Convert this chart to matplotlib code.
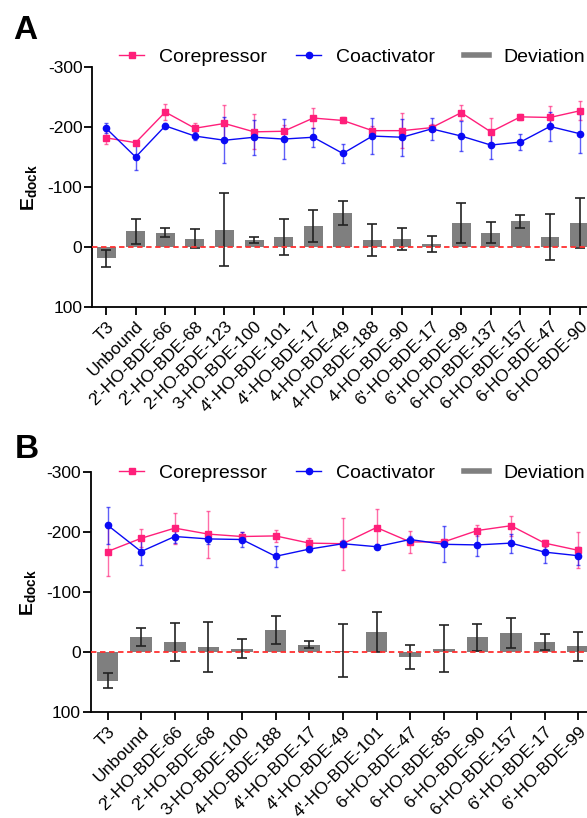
import numpy as np
import matplotlib
matplotlib.use("Agg")
import matplotlib.pyplot as plt
from matplotlib.lines import Line2D

plt.rcParams['font.family'] = ['Liberation Sans', 'DejaVu Sans']
plt.rcParams['mathtext.fontset'] = 'custom'
plt.rcParams['mathtext.rm'] = 'Liberation Sans'
plt.rcParams['mathtext.bf'] = 'Liberation Sans:bold'
plt.rcParams['axes.unicode_minus'] = False

# Panel A data
labels_a = ["T3", "Unbound", "2'-HO-BDE-66", "2'-HO-BDE-68", "2-HO-BDE-123", "3-HO-BDE-100",
            "4'-HO-BDE-101", "4'-HO-BDE-17", "4-HO-BDE-49", "4-HO-BDE-188", "4-HO-BDE-90",
            "6'-HO-BDE-17", "6'-HO-BDE-99", "6-HO-BDE-137", "6-HO-BDE-157", "6-HO-BDE-47", "6-HO-BDE-90"]
corep_a = [-182, -174, -225, -198, -206, -192, -193, -215, -211, -194, -194, -199, -224, -192, -217, -216, -227]
corep_a_err = [11, 3, 13, 8, 30, 29, 10, 17, 5, 8, 29, 6, 12, 23, 5, 19, 16]
coact_a = [-198, -150, -202, -185, -178, -183, -180, -183, -156, -185, -183, -197, -185, -170, -175, -201, -189]
coact_a_err = [8, 22, 4, 6, 38, 29, 34, 16, 16, 30, 31, 18, 25, 24, 13, 24, 32]
dev_a = [19, -26, -24, -14, -29, -12, -17, -35, -57, -12, -13, -5, -40, -24, -43, -17, -40]
dev_a_err = [14, 21, 8, 16, 61, 5, 30, 27, 20, 27, 18, 13, 34, 17, 11, 38, 41]

# Panel B data
labels_b = ["T3", "Unbound", "2'-HO-BDE-66", "2'-HO-BDE-68", "3-HO-BDE-100", "4-HO-BDE-188",
            "4'-HO-BDE-17", "4'-HO-BDE-49", "4'-HO-BDE-101", "6-HO-BDE-47", "6-HO-BDE-85",
            "6-HO-BDE-90", "6-HO-BDE-157", "6'-HO-BDE-17", "6'-HO-BDE-99"]
corep_b = [-168, -190, -207, -197, -193, -194, -182, -181, -208, -184, -184, -203, -211, -182, -170]
corep_b_err = [40, 15, 26, 39, 8, 10, 8, 43, 31, 18, 5, 9, 17, 6, 30]
coact_b = [-212, -168, -193, -189, -188, -160, -172, -181, -176, -188, -180, -179, -182, -167, -161]
coact_b_err = [31, 23, 10, 8, 12, 17, 5, 6, 4, 6, 30, 19, 16, 18, 15]
dev_b = [47, -26, -17, -9, -6, -37, -13, -3, -34, 7, -6, -25, -32, -17, -10]
dev_b_err = [12, 15, 32, 41, 16, 23, 6, 44, 33, 20, 39, 23, 25, 13, 24]

PINK = '#FF1F7A'
BLUE = '#0A0AF5'
GRAY = '#7F7F7F'


def draw_panel(ax, labels, corep, corep_err, coact, coact_err, dev, dev_err, xlim):
    x = np.arange(len(labels))
    ax.bar(x, dev, width=0.64, color=GRAY, zorder=2)
    ax.errorbar(x, dev, yerr=dev_err, fmt='none', ecolor='#222222', elinewidth=1.2,
                capsize=3.6, capthick=1.2, zorder=3)
    ax.axhline(0, color='#FF3030', linestyle=(0, (3, 2)), linewidth=1.3, zorder=4)
    # error bars of the two lines (lighter)
    ax.errorbar(x, corep, yerr=corep_err, fmt='none', ecolor=PINK, elinewidth=1,
                capsize=1.5, alpha=0.65, zorder=5)
    ax.errorbar(x, coact, yerr=coact_err, fmt='none', ecolor=BLUE, elinewidth=1,
                capsize=1.5, alpha=0.65, zorder=5)
    ax.plot(x, corep, color=PINK, marker='s', markersize=5, linewidth=1, zorder=6)
    ax.plot(x, coact, color=BLUE, marker='o', markersize=4.5, linewidth=1, zorder=6)

    ax.set_xlim(*xlim)
    ax.set_ylim(100, -300)
    ax.set_yticks([-300, -200, -100, 0, 100])
    ax.set_xticks(x)
    ax.set_xticklabels(labels, rotation=45, ha='right', rotation_mode='anchor', fontsize=12.5)
    ax.tick_params(axis='y', labelsize=12.5, length=6, width=1.3, pad=1)
    ax.tick_params(axis='x', length=6, width=1.3, pad=2.5)
    for s in ['top', 'right']:
        ax.spines[s].set_visible(False)
    for s in ['left', 'bottom']:
        ax.spines[s].set_linewidth(1.3)
    ax.set_ylabel(r'$\mathbf{E_{dock}}$', fontsize=14, labelpad=6)


fig = plt.figure(figsize=(5.87, 8.18), dpi=100)

ax_a = fig.add_axes([0.157, 0.6247, 0.843, 0.2933])
draw_panel(ax_a, labels_a, corep_a, corep_a_err, coact_a, coact_a_err, dev_a, dev_a_err, (-0.47, 16.25))

ax_b = fig.add_axes([0.1545, 0.1292, 0.8455, 0.2934])
draw_panel(ax_b, labels_b, corep_b, corep_b_err, coact_b, coact_b_err, dev_b, dev_b_err, (-0.5, 14.26))

handles = [Line2D([], [], color=PINK, marker='s', markersize=5, linewidth=1),
           Line2D([], [], color=BLUE, marker='o', markersize=4.5, linewidth=1),
           Line2D([], [], color=GRAY, linewidth=4)]
names = ['Corepressor', 'Coactivator', 'Deviation']
for ypos in [0.930, 0.4218]:
    fig.legend(handles, names, loc='center', bbox_to_anchor=(0.60, ypos), ncol=3,
               frameon=False, fontsize=14, handlelength=1.3, handletextpad=0.75,
               columnspacing=1.5, borderpad=0, borderaxespad=0)

fig.text(0.0426, 0.963, 'A', fontsize=24, fontweight='bold', ha='center', va='center')
fig.text(0.046, 0.451, 'B', fontsize=24, fontweight='bold', ha='center', va='center')

fig.savefig('out.png', dpi=100)
